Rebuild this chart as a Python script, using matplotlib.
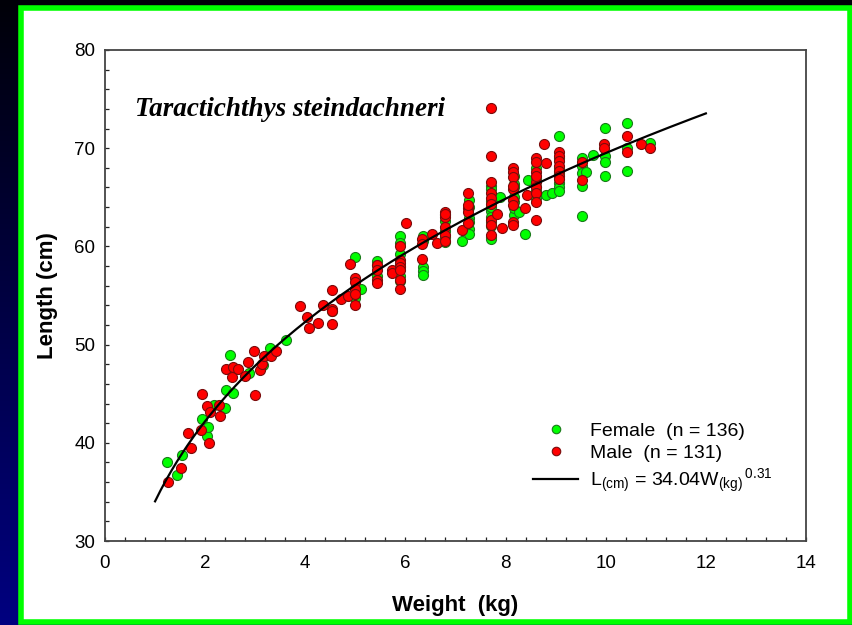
import numpy as np
import matplotlib
matplotlib.use("Agg")
import matplotlib.pyplot as plt
from matplotlib.patches import Rectangle
from matplotlib.colors import LinearSegmentedColormap
from matplotlib.ticker import MultipleLocator

plt.rcParams['font.family'] = ['Liberation Sans', 'DejaVu Sans']
plt.rcParams['mathtext.fontset'] = 'custom'
plt.rcParams['mathtext.rm'] = 'Liberation Sans'
plt.rcParams['mathtext.default'] = 'regular'

# weights (kg) and fork lengths (cm)
female_w = [1.23, 1.43, 1.53, 1.94, 2.03, 2.05, 2.17, 2.39, 2.42, 2.56, 2.49, 2.87, 3.16, 3.30, 3.62,
            4.53, 4.99, 4.99, 5.11, 4.99,
            5.44, 5.44, 5.44,
            5.90, 5.90, 5.90, 5.90, 5.90, 5.90,
            6.35, 6.35, 6.35, 6.35, 6.35,
            6.80, 6.80, 6.80, 6.80, 6.80,
            7.13,
            7.26, 7.26, 7.26, 7.26, 7.26, 7.26,
            7.71, 7.71, 7.71, 7.71, 7.71, 7.71, 7.71, 7.71, 7.71, 7.71,
            7.88,
            8.16, 8.16, 8.16, 8.16, 8.16, 8.16, 8.16,
            8.27, 8.39, 8.45,
            8.61, 8.61, 8.61, 8.61, 8.61,
            8.81, 8.93,
            9.07, 9.07, 9.07, 9.07, 9.07, 9.07, 9.07,
            9.53, 9.53, 9.53, 9.53, 9.53, 9.60, 9.74,
            9.98, 9.98, 9.98, 9.98,
            10.43, 10.43, 10.43,
            10.88]
female_l = [38.0, 36.7, 38.8, 42.4, 40.7, 41.6, 43.9, 43.5, 45.4, 45.1, 48.9, 47.1, 47.9, 49.7, 50.5,
            53.4, 58.9, 54.7, 55.7, 55.2,
            58.5, 58.1, 57.0,
            61.1, 60.3, 59.2, 57.0, 58.0, 56.5,
            61.1, 60.6, 57.9, 57.5, 57.1,
            60.4, 61.6, 62.6, 63.2, 61.0,
            60.5,
            64.7, 62.9, 61.8, 61.3, 64.0, 62.5,
            66.2, 65.8, 64.6, 63.6, 62.1, 61.0, 60.8, 63.0, 62.5, 64.0,
            65.0,
            67.2, 66.4, 63.2, 63.9, 66.0, 65.0, 64.5,
            63.5, 61.3, 66.8,
            68.0, 67.0, 66.0, 64.9, 65.6,
            65.2, 65.4,
            71.2, 66.5, 66.0, 65.6, 67.5, 68.0, 69.0,
            69.0, 68.2, 67.5, 66.1, 63.1, 67.6, 69.3,
            72.1, 69.2, 68.6, 67.2,
            72.6, 67.7, 70.0,
            70.5]

male_w = [1.25, 1.51, 1.65, 1.71, 1.91, 1.93, 2.04, 2.08, 2.09, 2.28, 2.29, 2.42, 2.53, 2.56, 2.65,
          2.80, 2.86, 2.97, 2.99, 3.09, 3.13, 3.17, 3.32, 3.41,
          3.89, 4.03, 4.07, 4.25, 4.35, 4.53, 4.53, 4.53, 4.53, 4.71, 4.85, 4.89,
          4.99, 4.99, 4.99, 4.99, 4.99,
          5.43, 5.43, 5.43, 5.43, 5.74, 5.74,
          5.89, 5.89, 5.89, 5.89, 5.89, 5.89, 5.89,
          6.02, 6.34, 6.34, 6.34, 6.53, 6.63,
          6.79, 6.79, 6.79, 6.79, 6.79, 6.79,
          7.12,
          7.25, 7.25, 7.25, 7.25, 7.25,
          7.70, 7.70, 7.70, 7.70, 7.70, 7.70, 7.70, 7.70, 7.70,
          7.82, 7.92,
          8.15, 8.15, 8.15, 8.15, 8.15, 8.15, 8.15, 8.15, 8.15,
          8.39, 8.43,
          8.61, 8.61, 8.61, 8.61, 8.61, 8.61, 8.61, 8.61, 8.61,
          8.77, 8.81,
          9.06, 9.06, 9.06, 9.06, 9.06, 9.06, 9.06,
          9.52, 9.52, 9.97, 9.97, 10.43, 10.43, 10.70, 10.88]
male_l = [36.0, 37.4, 41.0, 39.5, 41.3, 45.0, 43.7, 40.0, 43.1, 43.9, 42.7, 47.5, 46.7, 47.7, 47.5,
          46.8, 48.2, 49.3, 44.9, 47.4, 48.0, 48.8, 48.8, 49.3,
          53.9, 52.8, 51.7, 52.2, 54.0, 55.6, 53.6, 53.4, 52.1, 54.6, 54.9, 58.2,
          56.8, 56.4, 55.7, 54.0, 55.2,
          58.1, 57.6, 56.6, 56.3, 57.6, 57.3,
          60.0, 58.6, 58.3, 57.9, 57.6, 56.6, 55.7,
          62.4, 60.8, 60.2, 58.7, 61.3, 60.3,
          63.5, 63.0, 62.0, 61.2, 60.5, 63.3,
          61.7,
          65.4, 63.9, 63.5, 62.4, 64.2,
          74.1, 69.2, 66.6, 65.4, 64.9, 62.7, 62.2, 61.2, 64.3,
          63.3, 61.9,
          68.0, 67.6, 67.1, 65.8, 64.7, 64.2, 62.5, 62.2, 66.1,
          63.9, 65.2,
          69.0, 68.6, 67.6, 66.6, 66.0, 65.4, 64.5, 62.7, 67.2,
          70.4, 68.5,
          69.6, 69.2, 68.7, 68.2, 67.7, 67.2, 66.9,
          68.6, 66.8, 70.4, 70.0, 71.2, 69.6, 70.4, 70.0]

# L = a * W^b
fit_a = 34.04
fit_b = 0.31
fit_range = (1.0, 12.0)

species = "Taractichthys steindachneri"
female_label = "Female  (n = 136)"
male_label = "Male  (n = 131)"
fit_label = r"$L_{(cm)}$ = 34.04${W_{(kg)}}^{\,0.31}$"

fig = plt.figure(figsize=(8.53, 6.25), dpi=100)

# dark blue slide background
bg = fig.add_axes([0, 0, 1, 1], zorder=-10)
grad = np.linspace(0, 1, 256).reshape(-1, 1)
bg.imshow(grad, aspect='auto', extent=[0, 1, 0, 1], origin='upper',
          cmap=LinearSegmentedColormap.from_list('bg', ['#000008', '#000080']))
bg.axis('off')

# white panel with green frame
fig.patches.append(Rectangle((20.75 / 853, 2.75 / 625), (850.25 - 20.75) / 853, (622.25 - 7.75) / 625,
                             transform=fig.transFigure, facecolor='white', edgecolor='#00ff00',
                             linewidth=4.0, zorder=-5))

ax = fig.add_axes([105 / 853, 1 - 541 / 625, 701 / 853, 491 / 625])

ax.plot(female_w, female_l, 'o', ms=7.2, mfc='#00ff00', mec='#1a7a1a', mew=0.8,
        label=female_label, zorder=3)
ax.plot(male_w, male_l, 'o', ms=7.2, mfc='#ff0000', mec='#7a0c0c', mew=0.8,
        label=male_label, zorder=4)

w_fit = np.linspace(fit_range[0], fit_range[1], 200)
ax.plot(w_fit, fit_a * w_fit ** fit_b, color='black', lw=1.6, label=fit_label, zorder=5)

ax.set_xlim(0, 14)
ax.set_ylim(30, 80)
ax.xaxis.set_major_locator(MultipleLocator(2))
ax.xaxis.set_minor_locator(MultipleLocator(0.4))
ax.yaxis.set_major_locator(MultipleLocator(10))
ax.yaxis.set_minor_locator(MultipleLocator(2))
ax.tick_params(which='both', direction='in', length=3.2, width=0.9, color='#222222',
               top=False, right=False, labelsize=13.5)
ax.tick_params(axis='x', pad=10)
ax.tick_params(axis='y', pad=7)
for sp in ax.spines.values():
    sp.set_color('#444444')
    sp.set_linewidth(1.3)

ax.set_xlabel("Weight  (kg)", fontsize=16, fontweight='bold', labelpad=17)
ax.set_ylabel("Length (cm)", fontsize=16, fontweight='bold', labelpad=12)

ax.text(0.043, 0.878, species, transform=ax.transAxes, fontsize=19.5, fontweight='bold',
        fontstyle='italic', family=['Liberation Serif', 'DejaVu Serif'], va='center', ha='left')

ax.legend(loc='upper left', bbox_to_anchor=(0.597, 0.262), frameon=False, fontsize=14,
          handlelength=2.3, handletextpad=0.6, borderpad=0, labelspacing=0.25, markerscale=0.85)

fig.savefig("out.png", dpi=100)
